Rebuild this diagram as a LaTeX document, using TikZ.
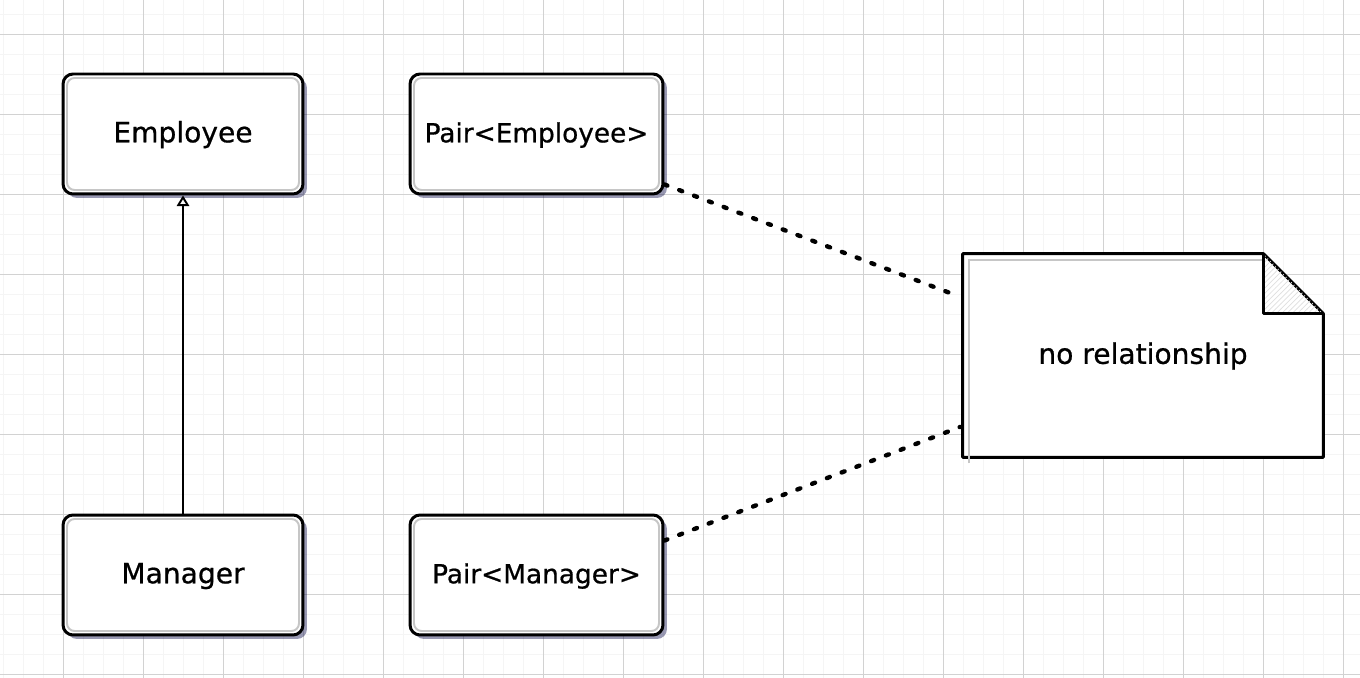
\documentclass[tikz,border=0pt]{standalone}
\usepackage{fontspec}
\setmainfont{DejaVu Sans}
\newfontfamily\sketchfont{DejaVu Sans}[FakeBold=0.7]
\usetikzlibrary{arrows.meta,shadows,calc,patterns}

\tikzset{
  minorline/.style={color=gray!8,line width=0.5pt},
  majorline/.style={color=gray!35,line width=0.5pt},
  boxfont/.style={font=\sketchfont\fontsize{16}{19}\selectfont,text height=1.2em,text depth=0.25em},
  umlbox/.style={draw,line width=1.7pt,fill=white,rounded corners=0.2cm,
    minimum width=4.8cm,minimum height=2.4cm,boxfont,
    drop shadow={shadow xshift=0.08cm,shadow yshift=-0.08cm,opacity=0.4,fill=blue!25!black},
    path picture={\draw[gray!45,line width=1.1pt,rounded corners=0.15cm]
      ($(path picture bounding box.north west)+(0.08cm,-0.08cm)$) rectangle
      ($(path picture bounding box.south east)+(-0.08cm,0.08cm)$);}},
  pairbox/.style={umlbox,minimum width=5.06cm,font=\sketchfont\fontsize{15}{18}\selectfont},
  dotline/.style={line width=2.5pt,dash pattern=on 1.8pt off 7.2pt,line cap=round},
  noteline/.style={line width=1.7pt,line join=round}
}

\begin{document}
\begin{tikzpicture}[x=0.02cm,y=-0.02cm]
	\useasboundingbox (0,0) rectangle (1360,678);
	% grid
	\foreach \i in {0,...,67} \draw[minorline] (3+20*\i,0) -- (3+20*\i,678);
	\foreach \j in {0,...,33} \draw[minorline] (0,14+20*\j) -- (1360,14+20*\j);
	\foreach \i in {0,...,16} \draw[majorline] (63+80*\i,0) -- (63+80*\i,678);
	\foreach \j in {0,...,8} \draw[majorline] (0,34+80*\j) -- (1360,34+80*\j);

	\node[umlbox] (emp) at (183,134) {Employee};
	\node[umlbox] (mgr) at (183,575) {Manager};
	\node[pairbox] (pe) at (536.5,134) {Pair<Employee>};
	\node[pairbox] (pm) at (536.5,575) {Pair<Manager>};

	% note
	\node[minimum width=7.2cm,minimum height=4.06cm] (note) at (1143,355.5) {};
	\coordinate (f1) at ($(note.north east)+(-1.2cm,0)$);
	\coordinate (f2) at ($(note.north east)+(0,-1.2cm)$);
	\coordinate (f3) at ($(note.north east)+(-1.2cm,-1.2cm)$);
	\fill[blue!25!black,opacity=0.4,shift={(4,4)}] (note.north west) -- (f1) -- (f2) -- (note.south east) -- (note.south west) -- cycle;
	\draw[noteline,fill=white] (note.north west) -- (f1) -- (f2) -- (note.south east) -- (note.south west) -- cycle;
	\draw[gray!45,line width=1.1pt] ($(note.south west)+(0.12cm,-0.12cm)$) -- ($(note.north west)+(0.12cm,-0.12cm)$) -- ($(f1)+(0,-0.12cm)$);
	\draw[noteline,pattern=north east lines,pattern color=gray!25] (f1) -- (f3) -- (f2);
	\node[boxfont] (notetext) at (note.center) {no relationship};

	\coordinate (n1) at (950,293);
	\coordinate (n2) at (960,427);

	\draw[-{Triangle[open,length=6pt,width=7pt]},line width=1.1pt] (mgr.north) -- (emp.south);
	\draw[dotline] ([yshift=0.22cm]pe.south east) -- (n1);
	\draw[dotline] ([yshift=-0.54cm]pm.north east) -- (n2);
\end{tikzpicture}
\end{document}
